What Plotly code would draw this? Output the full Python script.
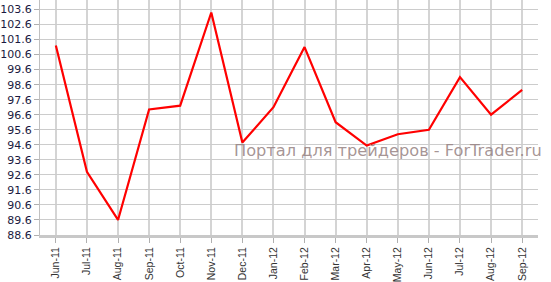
import plotly.graph_objects as go

categories = ["Jun-11", "Jul-11", "Aug-11", "Sep-11", "Oct-11", "Nov-11", "Dec-11", "Jan-12",
              "Feb-12", "Mar-12", "Apr-12", "May-12", "Jun-12", "Jul-12", "Aug-12", "Sep-12"]
values = [101.2, 92.8, 89.6, 96.95, 97.2, 103.4, 94.75, 97.1,
          101.1, 96.1, 94.55, 95.3, 95.6, 99.1, 96.6, 98.25]
y_ticks = [88.6 + i for i in range(16)]
watermark = "Портал для трейдеров - ForTrader.ru"

fig = go.Figure()
fig.add_trace(go.Scatter(x=list(range(len(categories))), y=values, mode="lines",
                         line=dict(color="#ff0000", width=2.2), hoverinfo="skip"))

fig.update_layout(
    width=551, height=282,
    margin=dict(l=37, r=13, t=0, b=47),
    paper_bgcolor="white", plot_bgcolor="white",
    showlegend=False,
    xaxis=dict(
        range=[-0.51, 15.51],
        tickmode="array", tickvals=list(range(len(categories))), ticktext=categories,
        tickangle=-90, tickfont=dict(family="Liberation Sans, Arial", size=10.5, color="#333333"),
        showgrid=True, gridcolor="#d4d4d4", gridwidth=1.5,
        showline=True, linecolor="#c8c8c8", linewidth=3,
        ticks="outside", ticklen=5, tickcolor="#b0b0b0",
        zeroline=False, fixedrange=True,
    ),
    yaxis=dict(
        range=[88.6, 104.23],
        tickmode="array", tickvals=y_ticks, ticktext=[f"{v:.1f}" for v in y_ticks],
        tickfont=dict(family="DejaVu Sans, Verdana", size=11, color="#1a1a40"),
        showgrid=True, gridcolor="#cccccc", gridwidth=1,
        showline=True, linecolor="#c0c0c0", linewidth=1,
        ticks="outside", ticklen=5, tickcolor="#b0b0b0",
        zeroline=False, fixedrange=True,
    ),
    annotations=[dict(
        text=watermark, xref="paper", yref="paper", x=1.012, y=(235 - 151) / 235,
        xanchor="right", yanchor="middle", showarrow=False,
        font=dict(family="DejaVu Sans, Verdana", size=16.2, color="rgba(150,130,130,0.85)"),
    )],
)

fig.write_html("out.html")
